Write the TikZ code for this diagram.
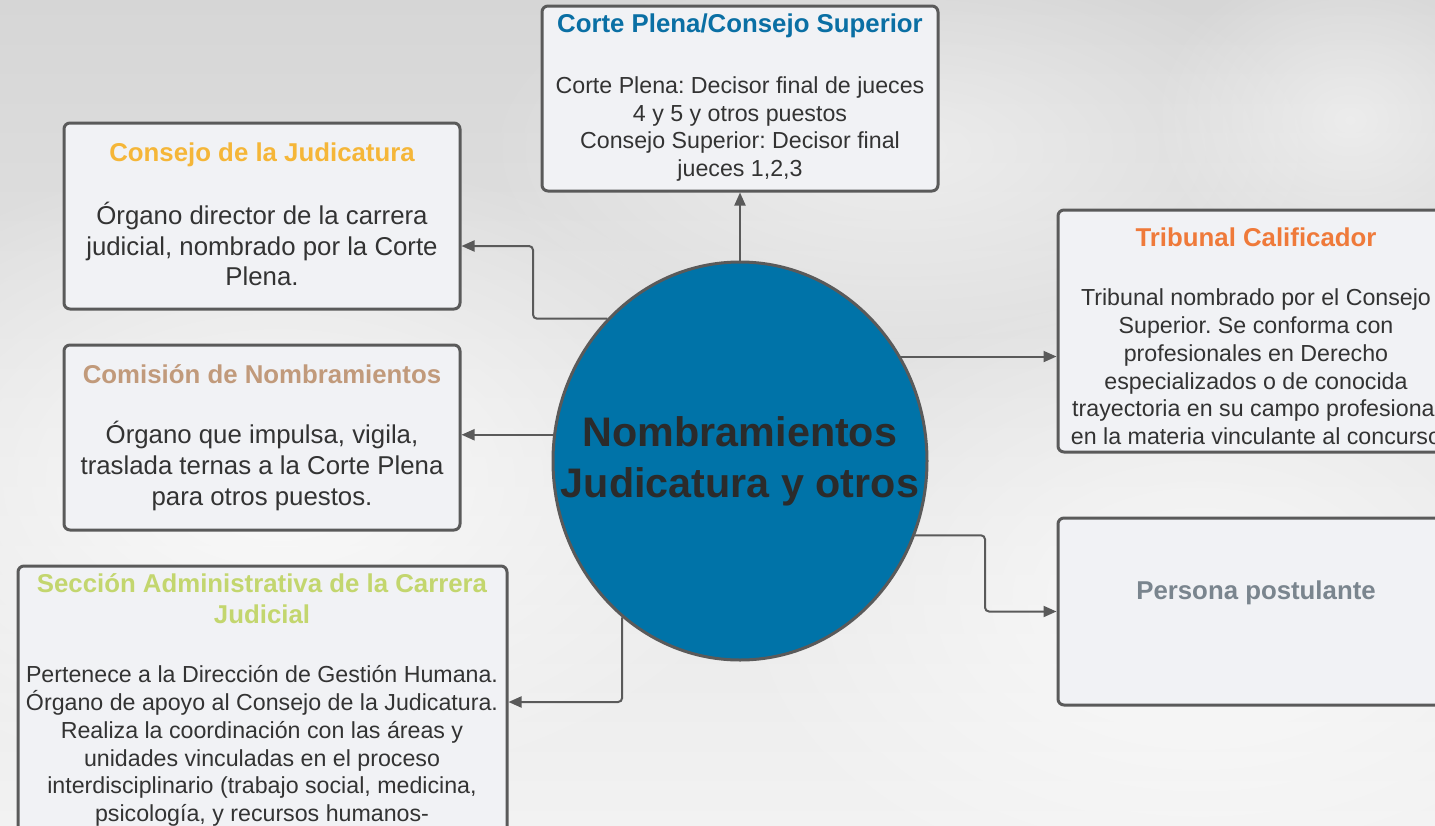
\documentclass[tikz,border=0pt]{standalone}
\usepackage{fontspec}
\setmainfont{Liberation Sans}
\usetikzlibrary{arrows.meta,shapes.geometric,calc,fadings}
\definecolor{boxfill}{HTML}{F1F2F5}
\definecolor{boxline}{HTML}{5A5A5A}
\definecolor{bodytext}{HTML}{333333}
\definecolor{circfill}{HTML}{0073A8}
\definecolor{tblue}{HTML}{0A6FA4}
\definecolor{tyellow}{HTML}{F5B638}
\definecolor{ttan}{HTML}{C19A7B}
\definecolor{tgreen}{HTML}{C3D66E}
\definecolor{torange}{HTML}{EF7A3A}
\definecolor{tgrey}{HTML}{7A858E}
\definecolor{bgtop}{HTML}{D6D6D6}
\definecolor{bgbot}{HTML}{F2F2F2}
\tikzfading[name=softblob,inner color=transparent!0,outer color=transparent!100]
\frenchspacing
\begin{document}
\begin{tikzpicture}[x=1pt,y=-1pt,
  box/.style={draw=boxline,line width=3pt,fill=boxfill,rounded corners=6pt,inner sep=0pt},
  ttl/.style={font=\bfseries\fontsize{25.8}{31}\selectfont,align=center,inner sep=0pt},
  bodyA/.style={font=\fontsize{23.2}{27.8}\selectfont,align=center,text=bodytext,inner sep=0pt},
  bodyB/.style={font=\fontsize{25.8}{30.8}\selectfont,align=center,text=bodytext,inner sep=0pt},
  blob/.style={white,path fading=softblob},
  arr/.style={draw=boxline,line width=2pt,rounded corners=4pt,-{Triangle[length=13pt,width=11pt]}}]
\useasboundingbox (0,0) rectangle (1435,825);
\clip (0,0) rectangle (1435,825);
% background
\shade[top color=bgtop,bottom color=bgbot] (0,0) rectangle (1435,825);
\fill[blob,opacity=0.8] (280,480) ellipse (520pt and 330pt);
\fill[blob,opacity=0.7] (1200,600) ellipse (480pt and 320pt);
\fill[blob,opacity=0.5] (900,150) ellipse (420pt and 200pt);
\fill[blob,opacity=0.5] (1350,120) ellipse (200pt and 160pt);
% boxes
\node[box,minimum width=396pt,minimum height=185pt] (cp) at (740,98.5) {};
\node[box,minimum width=396pt,minimum height=186pt] (cj) at (262,216) {};
\node[box,minimum width=396pt,minimum height=185pt] (cm) at (262,437.5) {};
\node[box,minimum width=489pt,minimum height=304pt] (sa) at (262.5,718) {};
\node[box,minimum width=396pt,minimum height=242pt] (tb) at (1256,331) {};
\node[box,minimum width=396pt,minimum height=187pt] (pp) at (1256,611.5) {};
% circle
\node[ellipse,draw=boxline,line width=3pt,fill=circfill,minimum width=374pt,minimum height=398pt,inner sep=0pt] (c) at (740,461) {};
\node[font=\bfseries\fontsize{41.3}{51}\selectfont,align=center,text=black!83,inner sep=0pt] (ct) at (740,461) {Nombramientos\\Judicatura y otros};
% texts
\node[ttl,text=tblue] (cpt) at (740,26) {Corte Plena/Consejo Superior};
\node[bodyA] (cpb) at (740,129) {Corte Plena: Decisor final de jueces\\4 y 5 y otros puestos\\Consejo Superior: Decisor final\\jueces 1,2,3};
\node[ttl,text=tyellow] (cjt) at (262,155) {Consejo de la Judicatura};
\node[bodyB] (cjb) at (262,244) {Órgano director de la carrera\\judicial, nombrado por la Corte\\Plena.};
\node[ttl,text=ttan] (cmt) at (262,374) {Comisión de Nombramientos};
\node[bodyB] (cmb) at (262,466) {Órgano que impulsa, vigila,\\traslada ternas a la Corte Plena\\para otros puestos.};
\node[ttl,text=tgreen] (sat) at (262,599) {Sección Administrativa de la Carrera\\Judicial};
\node[bodyA] (sab) at (262,746) {Pertenece a la Dirección de Gestión Humana.\\Órgano de apoyo al Consejo de la Judicatura.\\Realiza la coordinación con las áreas y\\unidades vinculadas en el proceso\\interdisciplinario (trabajo social, medicina,\\psicología, y recursos humanos-};
\node[ttl,text=torange] (tbt) at (1256,237) {Tribunal Calificador};
\node[bodyA] (tbb) at (1256,367) {Tribunal nombrado por el Consejo\\Superior. Se conforma con\\profesionales en Derecho\\especializados o de conocida\\trayectoria en su campo profesional\\en la materia vinculante al concurso};
\node[ttl,text=tgrey] (ppt) at (1256,593) {Persona postulante};
% connectors
\draw[arr] (c.north) -- (cp.south);
\draw[arr] (c.133) -| (533,246) -- (cj.east |- 0,246);
\draw[arr] (c.172) -- (c.172 -| cm.east);
\draw[arr] (c.233) |- (sa.east |- 0,702);
\draw[arr] (c.33) -- (c.33 -| tb.west);
\draw[arr] (c.-23) -| (985,611.5) -- (pp.west);
\end{tikzpicture}
\end{document}
